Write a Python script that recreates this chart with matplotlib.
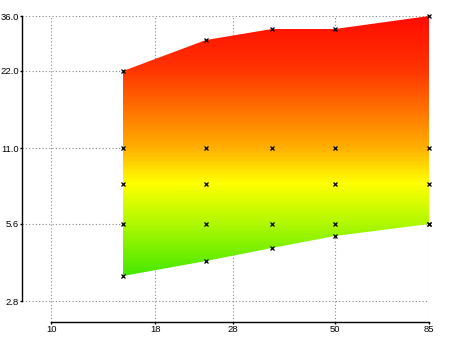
import matplotlib
matplotlib.use('Agg')

import numpy as np
import matplotlib.pyplot as plt
from matplotlib.colors import LinearSegmentedColormap, LogNorm
from matplotlib.ticker import FixedLocator, FixedFormatter, NullLocator

# data
xs = [15, 24, 35, 50, 85]
upper = [22, 29, 32, 32, 36]
lower = [3.5, 4.0, 4.5, 5.0, 5.6]
mid_11_x = [15, 24, 35, 50, 85]
mid_11_y = [11, 11, 11, 11, 11]
mid_8_x = [15, 24, 50, 85]
mid_8_y = [8, 8, 8, 8]
mid_56_x = [15, 24, 35, 50, 85]
mid_56_y = [5.6, 5.6, 5.6, 5.6, 5.6]

xticks = [10, 18, 28, 50, 85]
xlabels = ['10', '18', '28', '50', '85']
yticks = [2.8, 5.6, 11.0, 22.0, 36.0]
ylabels = ['2.8', '5.6', '11.0', '22.0', '36.0']

plt.rcParams['font.family'] = ['Liberation Sans', 'DejaVu Sans']

fig = plt.figure(figsize=(4.5, 3.37), dpi=100)
W, H = 450, 337
ax = fig.add_axes([22 / W, 1 - 322 / H, (429 - 22) / W, (322 - 16) / H])
ax.set_xscale('log')
ax.set_yscale('log')
ax.set_xlim(8.47, 85)
ax.set_ylim(2.32, 36)

# green -> yellow -> orange -> red, by value (log)
cmap = LinearSegmentedColormap.from_list('g2r', [
    (0.00, '#45e800'),
    (0.20, '#b0f800'),
    (0.355, '#ffff00'),
    (0.49, '#ffb000'),
    (0.62, '#ff7800'),
    (0.79, '#ff3400'),
    (1.00, '#ff0a00'),
])
ygrid = np.geomspace(3.5, 36, 200)
xgrid = np.array([8.47, 85])
Z = ygrid[:-1, None]
mesh = ax.pcolormesh(xgrid, ygrid, Z, cmap=cmap, norm=LogNorm(3.5, 36),
                     shading='flat', zorder=1)

poly = ax.fill_between(xs, lower, upper, facecolor='none', edgecolor='none')
mesh.set_clip_path(poly.get_paths()[0], transform=ax.transData)

mk = dict(marker='x', color='black', linestyle='none', markersize=2.6,
          markeredgewidth=0.9, clip_on=False, zorder=5)
ax.plot(xs, upper, **mk)
ax.plot(xs, lower, **mk)
ax.plot(mid_11_x, mid_11_y, **mk)
ax.plot(mid_8_x, mid_8_y, **mk)
ax.plot(mid_56_x, mid_56_y, **mk)

ax.xaxis.set_major_locator(FixedLocator(xticks))
ax.xaxis.set_major_formatter(FixedFormatter(xlabels))
ax.yaxis.set_major_locator(FixedLocator(yticks))
ax.yaxis.set_major_formatter(FixedFormatter(ylabels))
ax.xaxis.set_minor_locator(NullLocator())
ax.yaxis.set_minor_locator(NullLocator())

ax.grid(True, color='#888888', linestyle=(0, (1, 2)), linewidth=0.8)
ax.set_axisbelow(True)
for s in ['top', 'right']:
    ax.spines[s].set_visible(False)
ax.spines['left'].set_bounds(2.8, 36)
ax.spines['bottom'].set_bounds(10, 85)
ax.spines['left'].set_linewidth(1.0)
ax.spines['bottom'].set_linewidth(1.0)
ax.tick_params(length=1.5, width=1, labelsize=6.8, pad=0.6, colors='black')

fig.savefig('out.png', dpi=100)
